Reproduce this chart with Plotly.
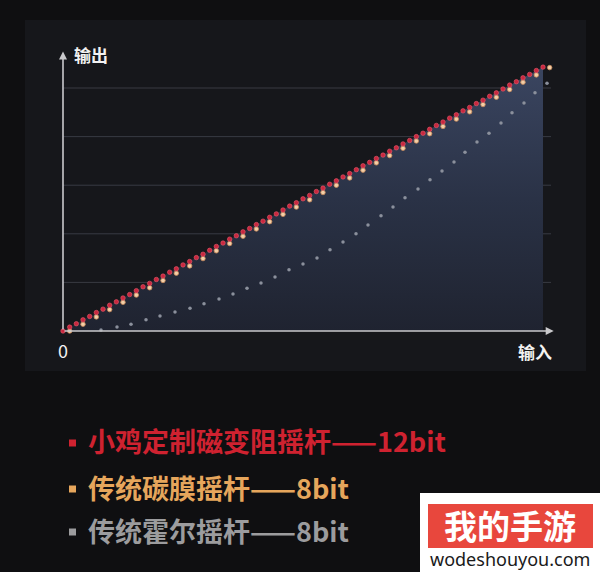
import plotly.graph_objects as go

# 12bit magnetic joystick: output per input step (input steps are the x index 0..72)
red_y = [0.00, 0.08, 0.15, 0.23, 0.30, 0.38, 0.45, 0.53, 0.60, 0.68,
         0.75, 0.83, 0.91, 0.98, 1.06, 1.13, 1.21, 1.28, 1.36, 1.43,
         1.51, 1.58, 1.66, 1.74, 1.81, 1.89, 1.96, 2.04, 2.11, 2.19,
         2.26, 2.34, 2.41, 2.49, 2.57, 2.64, 2.72, 2.79, 2.87, 2.94,
         3.02, 3.09, 3.17, 3.24, 3.32, 3.40, 3.47, 3.55, 3.62, 3.70,
         3.77, 3.85, 3.92, 4.00, 4.07, 4.15, 4.23, 4.30, 4.38, 4.45,
         4.53, 4.60, 4.68, 4.75, 4.83, 4.90, 4.98, 5.06, 5.13, 5.21,
         5.28, 5.36, 5.43]

# 8bit carbon film joystick
orange_x = [1, 3, 5, 7, 9, 11, 13, 15, 17, 19, 21, 23, 25, 27, 29, 31, 33, 35, 37,
            39, 41, 43, 45, 47, 49, 51, 53, 55, 57, 59, 61, 63, 65, 67, 69, 71, 73]
orange_y = [0.00, 0.14, 0.29, 0.44, 0.59, 0.74, 0.89, 1.04, 1.19, 1.34, 1.49, 1.65,
            1.80, 1.95, 2.10, 2.25, 2.40, 2.55, 2.70, 2.85, 3.00, 3.15, 3.31, 3.46,
            3.61, 3.76, 3.91, 4.06, 4.21, 4.36, 4.51, 4.66, 4.81, 4.97, 5.12, 5.27, 5.42]

# 8bit hall joystick
gray_x = [5.70, 8.10, 10.20, 12.45, 14.55, 16.80, 19.05, 21.15, 23.40, 25.50,
          27.60, 29.70, 31.80, 33.90, 36.00, 38.10, 40.05, 42.00, 43.95, 45.75,
          47.70, 49.50, 51.30, 53.25, 55.05, 56.85, 58.65, 60.30, 62.10, 63.90,
          65.70, 67.35, 69.15, 70.80, 72.60]
gray_y = [0.02, 0.08, 0.14, 0.23, 0.31, 0.39, 0.47, 0.56, 0.66, 0.76,
          0.88, 0.99, 1.11, 1.26, 1.38, 1.50, 1.67, 1.83, 2.00, 2.18,
          2.37, 2.55, 2.74, 2.92, 3.11, 3.29, 3.48, 3.68, 3.89, 4.07,
          4.28, 4.49, 4.69, 4.90, 5.10]

grid_levels = [1, 2, 3, 4, 5]

legend_labels = ["小鸡定制磁变阻摇杆——12bit", "传统碳膜摇杆——8bit", "传统霍尔摇杆——8bit"]
legend_colors = ["#cf2230", "#e6a65c", "#9c9c9e"]

FONT = "Noto Sans CJK SC"

fig = go.Figure()

# area under the 12bit line
fig.add_trace(go.Scatter(
    y=red_y, mode="lines", line=dict(width=0, color="rgba(0,0,0,0)"),
    fill="tozeroy",
    fillgradient=dict(type="vertical",
                      colorscale=[[0, "#1f2330"], [0.5, "#2a3246"], [1, "#3a4560"]]),
    hoverinfo="skip", showlegend=False))

fig.add_trace(go.Scatter(
    x=gray_x, y=gray_y, mode="markers",
    marker=dict(size=3.5, color="#8b909c"), showlegend=False))

fig.add_trace(go.Scatter(
    x=orange_x, y=orange_y, mode="markers",
    marker=dict(size=4.5, color="#f2cfa8", line=dict(width=0.8, color="#c98a5a")),
    showlegend=False))

fig.add_trace(go.Scatter(
    y=red_y, mode="markers",
    marker=dict(size=4.5, color="#c9283f", line=dict(width=0.6, color="#e8596c")),
    showlegend=False))

shapes = [
    # chart panel
    dict(type="rect", xref="paper", yref="paper", x0=25 / 600, x1=586 / 600,
         y0=1 - 371 / 572, y1=1 - 20 / 572, fillcolor="#16171b", line=dict(width=0),
         layer="below"),
]
for g in grid_levels:
    shapes.append(dict(type="line", xref="x", yref="y", x0=0, x1=73.2, y0=g, y1=g,
                       line=dict(color="#383b43", width=1), layer="below"))

# watermark box
shapes.append(dict(type="rect", xref="paper", yref="paper", x0=420 / 600, x1=1,
                   y0=0, y1=1 - 493 / 572, fillcolor="white", line=dict(width=0)))
shapes.append(dict(type="rect", xref="paper", yref="paper", x0=428 / 600, x1=593 / 600,
                   y0=1 - 548 / 572, y1=1 - 504 / 572, fillcolor="#e8473d",
                   line=dict(width=0)))

# legend squares
for i, c in enumerate(legend_colors):
    cy = [443, 489, 532][i]
    shapes.append(dict(type="rect", xref="paper", yref="paper",
                       x0=69 / 600, x1=76 / 600, y0=1 - (cy + 3.5) / 572,
                       y1=1 - (cy - 3.5) / 572, fillcolor=c, line=dict(width=0)))

annotations = [
    # axis arrows
    dict(x=73.6, y=0, ax=0, ay=0, xref="x", yref="y", axref="x", ayref="y",
         showarrow=True, arrowhead=2, arrowsize=1, arrowwidth=1.6, arrowcolor="#c9c9cc",
         text=""),
    dict(x=0, y=5.75, ax=0, ay=0, xref="x", yref="y", axref="x", ayref="y",
         showarrow=True, arrowhead=2, arrowsize=1, arrowwidth=1.6, arrowcolor="#c9c9cc",
         text=""),
    dict(x=1.4, y=5.68, xref="x", yref="y", text="<b>输出</b>", showarrow=False,
         xanchor="left", yanchor="middle",
         font=dict(family=FONT, size=17, color="#f2f2f2")),
    dict(x=0, y=-0.40, xref="x", yref="y", text="0", showarrow=False,
         xanchor="center", yanchor="middle",
         font=dict(family=FONT, size=18, color="#f2f2f2")),
    dict(x=73.6, y=-0.43, xref="x", yref="y", text="<b>输入</b>", showarrow=False,
         xanchor="right", yanchor="middle",
         font=dict(family=FONT, size=17, color="#f2f2f2")),
    # watermark text
    dict(x=510 / 600, y=1 - 525 / 572, xref="paper", yref="paper", text="<b>我的手游</b>",
         showarrow=False, xanchor="center", yanchor="middle",
         font=dict(family=FONT, size=33, color="white")),
    dict(x=510 / 600, y=1 - 559 / 572, xref="paper", yref="paper", text="wodeshouyou.com",
         showarrow=False, xanchor="center", yanchor="middle",
         font=dict(family="Noto Sans", size=18, color="#1a1a1a")),
]
for i, (label, c) in enumerate(zip(legend_labels, legend_colors)):
    cy = [440, 487, 530][i]
    annotations.append(dict(x=86 / 600, y=1 - cy / 572, xref="paper", yref="paper",
                            text="<b>" + label + "</b>", showarrow=False,
                            xanchor="left", yanchor="middle",
                            font=dict(family=FONT, size=27, color=c)))

fig.update_layout(
    width=600, height=572,
    margin=dict(l=0, r=0, t=0, b=0),
    paper_bgcolor="#0f0f11",
    plot_bgcolor="rgba(0,0,0,0)",
    xaxis=dict(range=[-9.45, 80.55], visible=False, fixedrange=True),
    yaxis=dict(range=[-4.959, 6.811], visible=False, fixedrange=True),
    shapes=shapes,
    annotations=annotations,
    showlegend=False,
)

fig.write_html("out.html", config={"displayModeBar": False},
               post_script="document.body.style.margin='0';")
